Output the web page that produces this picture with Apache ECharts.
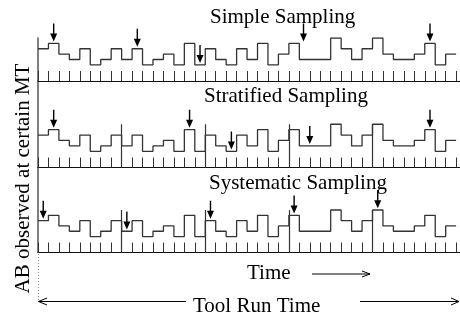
<!DOCTYPE html>
<html>
<head>
    <meta charset="utf-8">
    <title>Sampling</title>
    <script src="https://cdn.jsdelivr.net/npm/echarts@6/dist/echarts.min.js"></script>
    <style>
        body, html {
            margin: 0;
            background: #fff;
        }

        #main {
            width: 460px;
            height: 316px;
        }
    </style>
</head>
<body>
<div id="main"></div>
<script type="text/javascript">
    // AB level observed in each MT slot (same trace in all three panels)
    var observed = [6, 7, 5, 4, 6, 3, 4, 6,
        4, 6, 3, 4, 5, 3, 7, 3,
        6, 4, 3, 6, 4, 7, 3, 5,
        7, 4, 4, 4, 8, 6, 4, 6,
        8, 5, 4, 4, 5, 7, 3, 5];
    var panelTitles = ['Simple Sampling', 'Stratified Sampling', 'Systematic Sampling'];
    // slot index picked by each scheme
    var simplePicks = [1, 9, 15, 24.9, 37];
    var stratifiedPicks = [1, 14, 18, 25.5, 37];
    var systematicPicks = [0, 8, 16, 24, 32];
    var strataBounds = [8, 16, 24, 32];

    var serif = '"Liberation Serif", "DejaVu Serif", serif';
    var lineColor = '#333';
    var arrowPath = 'path://M2.8,0 L4.2,0 L4.2,10 L7,10 L3.5,18 L0,10 L2.8,10 Z';

    var myChart = echarts.init(document.getElementById('main'));

    var stepData = observed.map(function (v, i) {
        return [i, v];
    });
    stepData.push([observed.length, observed[observed.length - 1]]);

    var topLevel = Math.max.apply(null, observed);

    function arrowData(picks) {
        return picks.map(function (p) {
            return [p + 0.5, observed[Math.floor(p)] + 0.35];
        });
    }

    var separators = strataBounds.map(function (b) {
        return [{coord: [b, 0]}, {coord: [b, topLevel]}];
    });

    var grids = [
        {left: 38, right: -10, top: 38, height: 43},
        {left: 38, right: -10, top: 81, height: 86.5},
        {left: 38, right: -10, top: 167.5, height: 85}
    ];
    var yMax = [8, 16, 16];

    var xAxes = [], yAxes = [], series = [];
    var picks = [simplePicks, stratifiedPicks, systematicPicks];

    for (var k = 0; k < 3; k++) {
        xAxes.push({
            gridIndex: k,
            type: 'value',
            min: 0,
            max: 40.37,
            interval: 1,
            axisLine: {show: true, onZero: false, lineStyle: {color: '#111', width: 1}},
            axisTick: {show: true, inside: true, length: 10, lineStyle: {color: '#333', width: 1}},
            axisLabel: {show: false},
            splitLine: {show: false}
        });
        yAxes.push({
            gridIndex: k,
            type: 'value',
            min: 0,
            max: yMax[k],
            axisLine: {show: true, lineStyle: {color: '#555', width: 1.5}},
            axisTick: {show: false},
            axisLabel: {show: false},
            splitLine: {show: false}
        });
        var s = {
            type: 'line',
            xAxisIndex: k,
            yAxisIndex: k,
            step: 'end',
            data: stepData,
            showSymbol: false,
            symbol: 'none',
            lineStyle: {color: lineColor, width: 1.3},
            silent: true
        };
        if (k > 0) {
            s.markLine = {
                silent: true,
                symbol: ['none', 'none'],
                label: {show: false},
                lineStyle: {color: lineColor, width: 1.2, type: 'solid'},
                data: separators
            };
        }
        series.push(s);
        series.push({
            type: 'scatter',
            xAxisIndex: k,
            yAxisIndex: k,
            data: arrowData(picks[k]),
            symbol: arrowPath,
            symbolSize: [7, 18],
            symbolOffset: [0, -9],
            itemStyle: {color: '#000', opacity: 1},
            silent: true
        });
    }

    var titleLeft = [210, 204, 209];
    var titleTop = [6.5, 85.5, 173];

    option = {
        animation: false,
        backgroundColor: '#fff',
        title: panelTitles.map(function (t, i) {
            return {
                text: t,
                left: titleLeft[i],
                top: titleTop[i],
                padding: 0,
                textStyle: {fontFamily: serif, fontSize: 21, fontWeight: 'normal', color: '#000'}
            };
        }),
        grid: grids,
        xAxis: xAxes,
        yAxis: yAxes,
        series: series,
        graphic: [
            {
                type: 'text', x: 23, y: 178.5, rotation: Math.PI / 2,
                style: {text: 'AB observed at certain MT', font: '21px ' + serif, fill: '#000',
                    textAlign: 'center', textVerticalAlign: 'middle'}
            },
            {
                type: 'text', x: 247, y: 273.5,
                style: {text: 'Time', font: '21px ' + serif, fill: '#000', textVerticalAlign: 'middle'}
            },
            {type: 'line', shape: {x1: 312, y1: 274, x2: 370, y2: 274}, style: {stroke: '#000', lineWidth: 1}},
            {type: 'polyline', shape: {points: [[362, 271], [370, 274], [362, 277]]}, style: {stroke: '#000', lineWidth: 1, fill: null}},
            {
                type: 'text', x: 193, y: 306,
                style: {text: 'Tool Run Time', font: '21px ' + serif, fill: '#000', textVerticalAlign: 'middle'}
            },
            {type: 'line', shape: {x1: 38.5, y1: 301.5, x2: 186, y2: 301.5}, style: {stroke: '#000', lineWidth: 1}},
            {type: 'polyline', shape: {points: [[47, 298], [38.5, 301.5], [47, 305]]}, style: {stroke: '#000', lineWidth: 1, fill: null}},
            {type: 'line', shape: {x1: 360, y1: 301.5, x2: 459, y2: 301.5}, style: {stroke: '#000', lineWidth: 1}},
            {type: 'polyline', shape: {points: [[451, 298], [459, 301.5], [451, 305]]}, style: {stroke: '#000', lineWidth: 1, fill: null}},
            {type: 'line', shape: {x1: 38.5, y1: 254, x2: 38.5, y2: 300}, style: {stroke: '#888', lineWidth: 1, lineDash: [1, 2]}}
        ]
    };

    myChart.setOption(option);
</script>
</body>
</html>
